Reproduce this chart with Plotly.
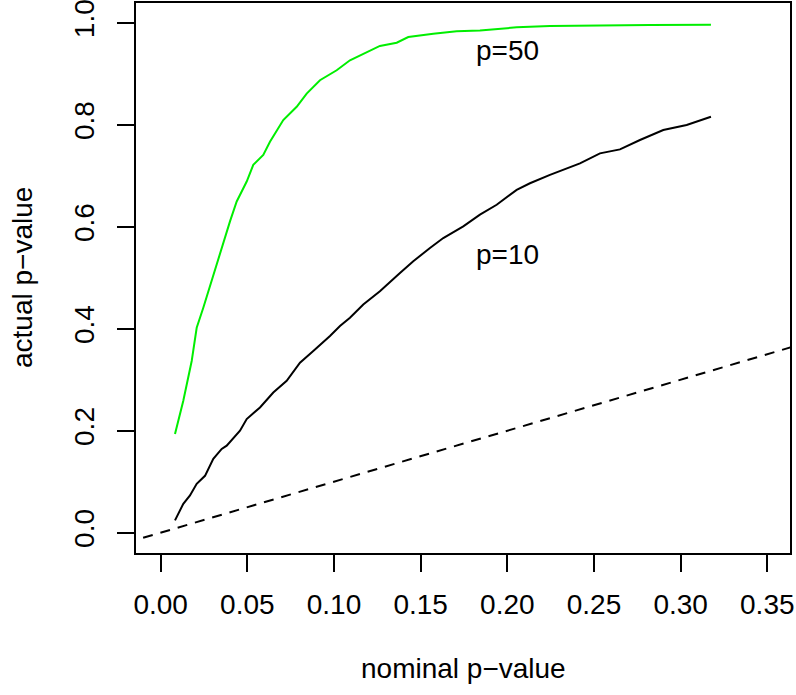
import plotly.graph_objects as go

# nominal / actual p-values, p = 50 (green)
nom50 = [0.00825, 0.01304, 0.01789, 0.02077, 0.02458, 0.03035, 0.03421, 0.03998, 0.04385,
         0.04962, 0.05342, 0.05919, 0.06305, 0.07073, 0.07846, 0.08423, 0.09190, 0.10154,
         0.10921, 0.11689, 0.12648, 0.13616, 0.14285, 0.15727, 0.17077, 0.18421, 0.20539,
         0.22460, 0.25345, 0.28230, 0.31749]
act50 = [0.1936, 0.2587, 0.3368, 0.4020, 0.4411, 0.5064, 0.5455, 0.6106, 0.6497,
         0.6888, 0.7214, 0.7410, 0.7669, 0.8094, 0.8354, 0.8614, 0.8876, 0.9071,
         0.9267, 0.9396, 0.9547, 0.9611, 0.9723, 0.9787, 0.9834, 0.9853, 0.9912,
         0.9937, 0.9951, 0.9957, 0.9963]

# p = 10 (black)
nom10 = [0.00825, 0.01304, 0.01690, 0.02077, 0.02556, 0.03035, 0.03519, 0.03808, 0.04575,
         0.04962, 0.05729, 0.06496, 0.07269, 0.08037, 0.08804, 0.09767, 0.10344, 0.10921,
         0.11689, 0.12648, 0.13806, 0.14573, 0.15536, 0.16304, 0.17458, 0.18421, 0.19385,
         0.20539, 0.21306, 0.22460, 0.24191, 0.25345, 0.26499, 0.27653, 0.28997, 0.30347,
         0.31749]
act10 = [0.0241, 0.0567, 0.0729, 0.0958, 0.1115, 0.1447, 0.1642, 0.1707, 0.2000,
         0.2229, 0.2456, 0.2749, 0.2978, 0.3335, 0.3564, 0.3857, 0.4053, 0.4215,
         0.4477, 0.4737, 0.5095, 0.5324, 0.5584, 0.5779, 0.6008, 0.6237, 0.6432,
         0.6725, 0.6854, 0.7019, 0.7245, 0.7441, 0.7519, 0.7703, 0.7898, 0.7996,
         0.8158]

# identity reference line (abline(0, 1))
ref_x = [-0.05, 0.40]
ref_y = [-0.05, 0.40]

xticks = [0.00, 0.05, 0.10, 0.15, 0.20, 0.25, 0.30, 0.35]
xticklabels = ["0.00", "0.05", "0.10", "0.15", "0.20", "0.25", "0.30", "0.35"]
yticks = [0.0, 0.2, 0.4, 0.6, 0.8, 1.0]
yticklabels = ["0.0", "0.2", "0.4", "0.6", "0.8", "1.0"]

labels = ["p=50", "p=10"]
label_x = [0.2, 0.2]
label_y = [0.95, 0.55]

FONT = "Liberation Sans, Arial, Helvetica, sans-serif"
FS = 28

fig = go.Figure()
fig.add_trace(go.Scatter(x=ref_x, y=ref_y, mode="lines",
                         line=dict(color="black", width=2, dash="10px,8px"),
                         showlegend=False, hoverinfo="skip"))
fig.add_trace(go.Scatter(x=nom50, y=act50, mode="lines",
                         line=dict(color="#00ee00", width=2), showlegend=False))
fig.add_trace(go.Scatter(x=nom10, y=act10, mode="lines",
                         line=dict(color="black", width=2), showlegend=False))

for t, lx, ly in zip(labels, label_x, label_y):
    fig.add_annotation(x=lx, y=ly, text=t, showarrow=False, xref="x", yref="y",
                       font=dict(family=FONT, size=FS, color="black"),
                       xanchor="center", yanchor="middle", yshift=-2)

fig.add_annotation(x=0.5, y=-0.2096, xref="paper", yref="paper", text="nominal p\u2212value",
                   showarrow=False, font=dict(family=FONT, size=FS, color="black"),
                   xanchor="center", yanchor="middle")
fig.add_annotation(x=-0.1743, y=0.5, xref="paper", yref="paper", text="actual p\u2212value",
                   showarrow=False, textangle=-90, font=dict(family=FONT, size=FS, color="black"),
                   xanchor="center", yanchor="middle")

fig.update_layout(
    width=796, height=695,
    margin=dict(l=136, r=6, t=3, b=142, autoexpand=False),
    paper_bgcolor="white", plot_bgcolor="white",
    font=dict(family=FONT, size=FS, color="black"),
    xaxis=dict(range=[-0.01425, 0.3631], tickvals=xticks, ticktext=xticklabels,
               ticks="outside", ticklen=17, tickwidth=2, tickcolor="black",
               showline=True, linecolor="black", linewidth=2, mirror=True,
               showgrid=False, zeroline=False, ticklabelstandoff=8, automargin=False,
               ticklabeloverflow="allow", tickfont=dict(family=FONT, size=FS)),
    yaxis=dict(range=[-0.0399, 1.039], tickvals=yticks, ticktext=yticklabels,
               ticks="outside", ticklen=17, tickwidth=2, tickcolor="black",
               showline=True, linecolor="black", linewidth=2, mirror=True,
               showgrid=False, zeroline=False, tickangle=-90, ticklabelstandoff=12,
               ticklabeloverflow="allow", automargin=False,
               tickfont=dict(family=FONT, size=FS)),
)

fig.write_html("out.html", config={"displayModeBar": False},
               post_script="document.body.style.margin='0px';document.body.style.overflow='hidden';")
